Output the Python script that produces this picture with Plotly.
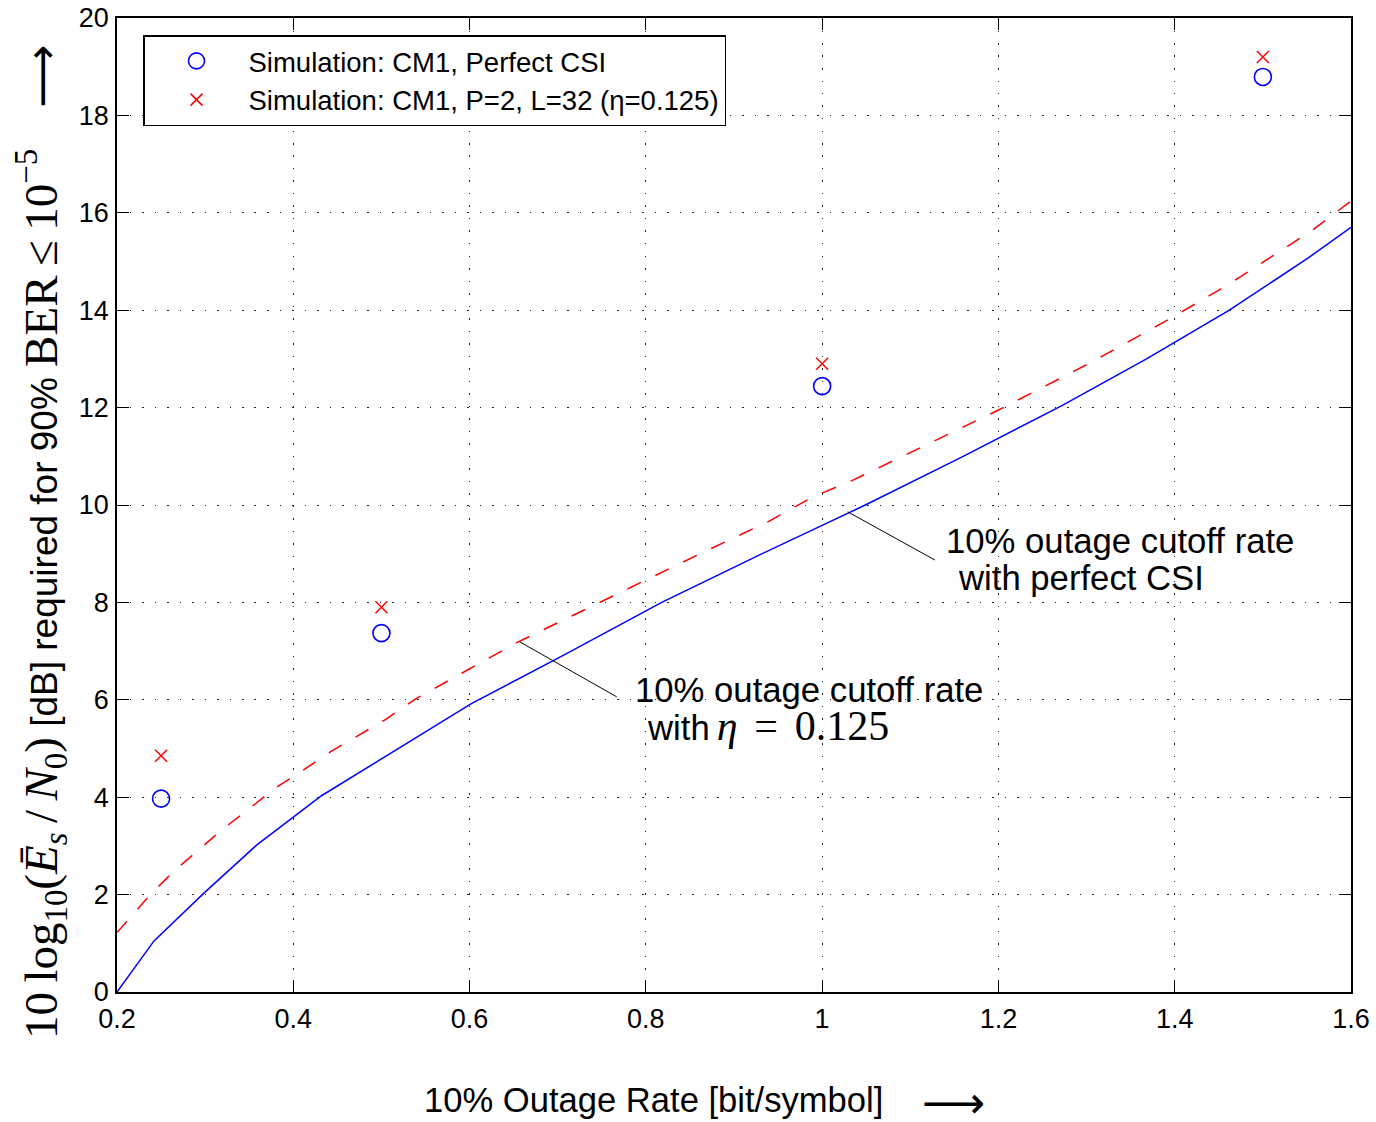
import plotly.graph_objects as go

# ---- data ----
sim_rate = [0.25, 0.5, 1.0, 1.5]
sim_perfect_csi = [3.97, 7.37, 12.44, 18.79]
sim_eta = [4.85, 7.90, 12.90, 19.20]

cut_perfect_x = [0.2, 0.242, 0.298, 0.358, 0.432, 0.51, 0.602, 0.71, 0.818,
                 0.932, 1.049, 1.16, 1.272, 1.368, 1.462, 1.552, 1.6]
cut_perfect_y = [0.0, 1.05, 2.02, 3.01, 4.03, 4.9, 5.92, 6.95, 8.0,
                 9.0, 10.0, 11.0, 12.04, 13.0, 14.0, 15.08, 15.7]

cut_eta_x = [0.2, 0.236, 0.262, 0.29, 0.319, 0.349, 0.379, 0.41, 0.442, 0.474,
             0.505, 0.538, 0.587, 0.619, 0.653, 0.702, 0.803, 0.871, 0.939, 0.99,
             1.035, 1.2, 1.3, 1.398, 1.462, 1.556, 1.6]
cut_eta_y = [1.22, 1.96, 2.44, 2.88, 3.33, 3.75, 4.18, 4.54, 4.93, 5.27,
             5.6, 6.01, 6.51, 6.83, 7.17, 7.6, 8.49, 9.08, 9.66, 10.17,
             10.51, 11.95, 12.88, 13.86, 14.54, 15.64, 16.24]

x_ticks = [0.2, 0.4, 0.6, 0.8, 1.0, 1.2, 1.4, 1.6]
x_ticklabels = ["0.2", "0.4", "0.6", "0.8", "1", "1.2", "1.4", "1.6"]
y_ticks = [0, 2, 4, 6, 8, 10, 12, 14, 16, 18, 20]
y_ticklabels = [str(v) for v in y_ticks]

# callout lines (data coords): start on curve, end near text
callout_perfect = ([1.029, 1.128], [9.86, 8.87])
callout_eta = ([0.657, 0.767], [7.19, 6.06])

SANS = "Liberation Sans, Arial, sans-serif"
SERIF = "Liberation Serif"
ARROW = "DejaVu Sans"

fig = go.Figure()

fig.add_trace(go.Scatter(
    x=cut_perfect_x, y=cut_perfect_y, mode="lines",
    line=dict(color="#0000ff", width=1.5), showlegend=False, hoverinfo="skip"))
fig.add_trace(go.Scatter(
    x=cut_eta_x, y=cut_eta_y, mode="lines",
    line=dict(color="#ff0000", width=1.5, dash="15px,16px"), showlegend=False,
    hoverinfo="skip"))
fig.add_trace(go.Scatter(
    x=sim_rate, y=sim_perfect_csi, mode="markers",
    name="Simulation: CM1, Perfect CSI",
    marker=dict(symbol="circle-open", size=17, color="#0000ff",
                line=dict(color="#0000ff", width=1.6))))
fig.add_trace(go.Scatter(
    x=sim_rate, y=sim_eta, mode="markers",
    name="Simulation: CM1, P=2, L=32 (η=0.125)",
    marker=dict(symbol="x-thin-open", size=12, color="#ff0000",
                line=dict(color="#ff0000", width=1.5))))

for cx, cy in (callout_perfect, callout_eta):
    fig.add_shape(type="line", xref="x", yref="y", x0=cx[0], y0=cy[0],
                  x1=cx[1], y1=cy[1], line=dict(color="black", width=1))

ann_font = dict(family=SANS, size=34.7, color="black")


def px_x(p):
    return (p - 117) / 1234


def px_y(p):
    return (992 - p) / 974


# callout texts (one annotation per line to control the spacing)
fig.add_annotation(xref="paper", yref="paper", x=px_x(944), y=px_y(541),
                   xanchor="left", yanchor="middle", showarrow=False,
                   font=ann_font, text="10% outage cutoff rate")
fig.add_annotation(xref="paper", yref="paper", x=px_x(956), y=px_y(578),
                   xanchor="left", yanchor="middle", showarrow=False,
                   font=ann_font, text="with perfect CSI")
fig.add_annotation(xref="paper", yref="paper", x=px_x(633), y=px_y(690),
                   xanchor="left", yanchor="middle", showarrow=False,
                   font=ann_font, text="10% outage cutoff rate")
fig.add_annotation(xref="paper", yref="paper", x=px_x(645), y=px_y(726),
                   xanchor="left", yanchor="middle", showarrow=False,
                   font=ann_font,
                   text=("with\u2009<span style='font-family:Liberation Serif;font-size:42px'>"
                         "<i>η</i>\u2009\u2009=\u2009\u20090.125</span>"))

# axis titles
fig.add_annotation(
    xref="paper", yref="paper", x=px_x(422), y=px_y(1100),
    xanchor="left", yanchor="middle", showarrow=False,
    font=dict(family=SANS, size=34.6, color="black"),
    text="10% Outage Rate [bit/symbol]")
fig.add_annotation(
    xref="paper", yref="paper", x=px_x(920), y=px_y(1102),
    xanchor="left", yanchor="middle", showarrow=False,
    font=dict(family=ARROW, size=44, color="black"), text="⟶")
fig.add_annotation(
    xref="paper", yref="paper", x=px_x(41), y=px_y(542),
    xanchor="center", yanchor="middle", showarrow=False, textangle=-90,
    font=dict(family=SANS, size=37, color="black"),
    text=(f"<span style='font-family:{SERIF};font-size:47px'>10\u2009log<sub>10</sub>"
          "(<i>Ē</i><sub><i>s</i></sub>\u2009/\u2009<i>N</i><sub>0</sub>)</span> "
          "[dB] required for 90% "
          f"<span style='font-family:{SERIF};font-size:47px'>BER\u2009≤\u200910<sup>−5</sup></span>"
          "\u00a0\u00a0\u00a0\u00a0"
          f"<span style='font-family:{ARROW};font-size:44px'>⟶</span>"))

axis_common = dict(
    showline=True, linecolor="black", linewidth=1.5, mirror="allticks",
    ticks="inside", ticklen=12, tickwidth=1, tickcolor="black",
    showgrid=True, gridcolor="rgba(0,0,0,0.85)", gridwidth=1,
    griddash="1.5px,11px", zeroline=False, automargin=False,
    tickfont=dict(family=SANS, size=27, color="black"))

fig.update_xaxes(range=[0.2, 1.6], tickvals=x_ticks, ticktext=x_ticklabels,
                 ticklabelstandoff=2, **axis_common)
fig.update_yaxes(range=[0, 20], tickvals=y_ticks, ticktext=y_ticklabels,
                 ticklabelstandoff=1, **axis_common)

fig.update_layout(
    width=1376, height=1122,
    margin=dict(l=117, r=25, t=18, b=130, autoexpand=False),
    paper_bgcolor="white", plot_bgcolor="white",
    font=dict(family=SANS, color="black"),
    legend=dict(x=px_x(143), y=px_y(35), xanchor="left",
                yanchor="top", bgcolor="white", bordercolor="black",
                borderwidth=1.5, font=dict(family=SANS, size=27.5, color="black"),
                itemwidth=94, tracegroupgap=0),
)

fig.write_html("out.html", config={"displayModeBar": False},
               post_script="document.body.style.margin='0px';"
                           "document.body.style.overflow='hidden';")
